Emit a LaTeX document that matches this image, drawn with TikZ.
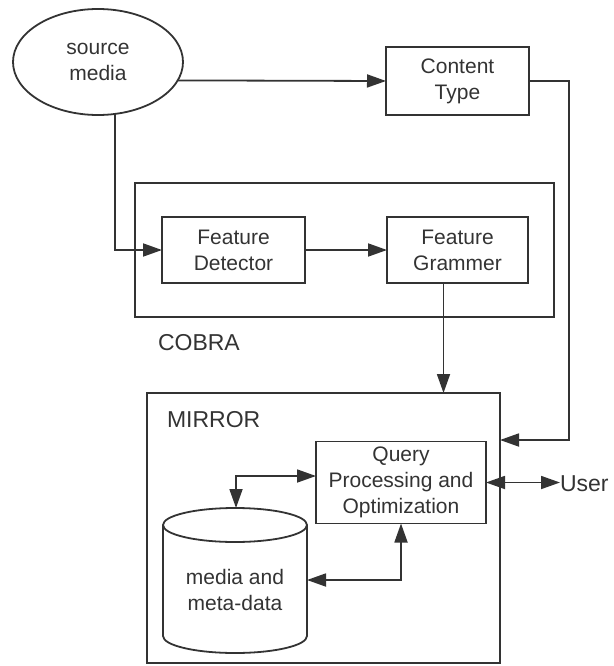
\documentclass[tikz,border=0pt]{standalone}
\usepackage{fontspec}
\setmainfont{Liberation Sans}
\usetikzlibrary{shapes.geometric,arrows.meta,calc}
\definecolor{ink}{HTML}{333333}
\begin{document}
\begin{tikzpicture}[x=1pt,y=-1pt,
  line width=1.8pt, draw=ink, text=ink,
  every node/.style={inner sep=0pt, outer sep=0pt, align=center,
    font=\fontsize{21}{26}\selectfont},
  box/.style={draw, rectangle},
  frame/.style={draw, rectangle},
  lbl/.style={anchor=west, font=\fontsize{23}{28}\selectfont},
  arr/.style={-{Triangle[length=19pt,width=13pt]}},
  darr/.style={{Triangle[length=19pt,width=13pt]}-{Triangle[length=19pt,width=13pt]}}]
\useasboundingbox (0,0) rectangle (613,666);

% source and content type
\node[draw, ellipse, minimum width=170, minimum height=106] (src) at (98,62) {source\\media};
\node[box, minimum width=143, minimum height=68] (ct) at (457.5,81) {Content\\Type};

% COBRA subsystem
\node[frame, minimum width=419, minimum height=134] (cobra) at (344.5,250) {};
\node[lbl] (cobralbl) at (158,343) {COBRA};
\node[box, minimum width=143, minimum height=66] (fd) at (233.5,250) {Feature\\Detector};
\node[box, minimum width=141, minimum height=66] (fg) at (457.5,250) {Feature\\Grammer};

% MIRROR subsystem
\node[frame, minimum width=353, minimum height=270] (mirror) at (323.5,528) {};
\node[lbl] (mirrorlbl) at (167,420) {MIRROR};
\node[box, minimum width=170, minimum height=82] (qp) at (401,482.5) {Query\\Processing and\\Optimization};
\node[lbl] (user) at (560,484) {User};

% database cylinder
\draw (235,525) ellipse [x radius=72, y radius=17];
\draw (163,525) -- (163,636) arc[start angle=180, end angle=0, x radius=72, y radius=17] -- (307,525);
\node (db) at (235,590) {media and\\meta-data};
\coordinate (dbtop) at (236,508);
\coordinate (dbright) at (307,580);

% connectors
\draw[arr] (src.-13.5) -- (ct.west);
\draw[arr] (src.-72) |- (fd.west);
\draw[arr] (fd.east) -- (fg.west);
\coordinate (fgout) at ($(fg.south)+(-14,0)$);
\draw[arr] (fgout) -- (fgout |- mirror.north);
\coordinate (ctcorner) at (569,440);
\draw[arr] (ct.east) -| (ctcorner) -- (ctcorner -| mirror.east);
\draw[darr] (qp.east) -- (qp.east -| user.west);
\draw[darr] ($(qp.west)+(0,-6.5)$) -| (dbtop);
\draw[darr] (qp.south) |- (dbright);
\end{tikzpicture}
\end{document}
